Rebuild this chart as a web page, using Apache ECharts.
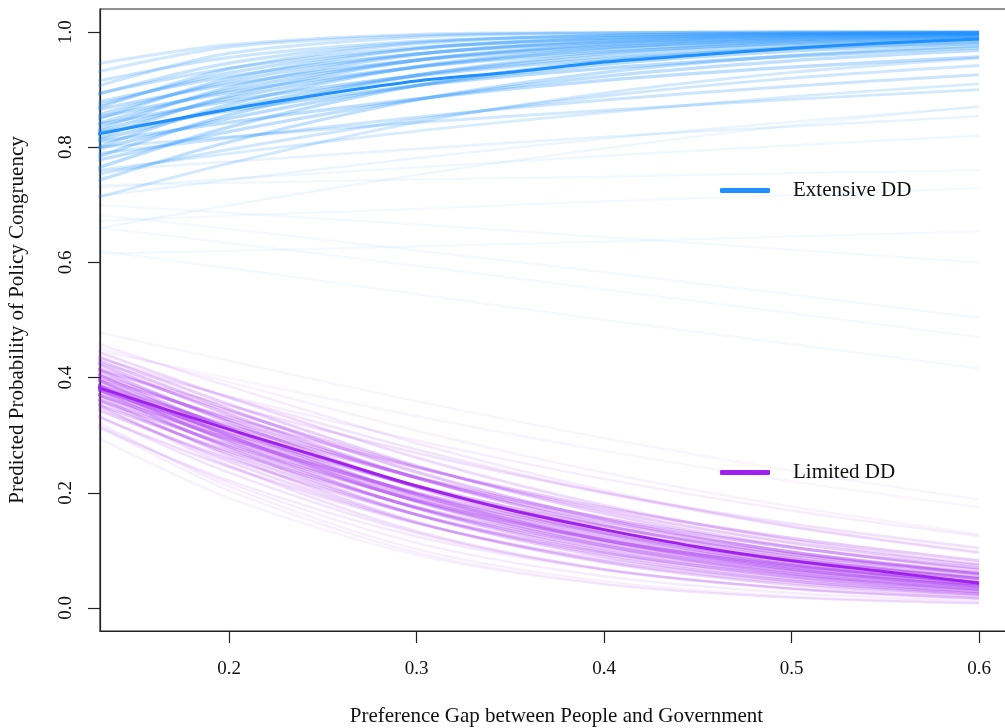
<!DOCTYPE html>
<html>
<head>
<meta charset="utf-8">
<script src="https://cdn.jsdelivr.net/npm/echarts@6/dist/echarts.min.js"></script>
<style>
  html, body { margin: 0; padding: 0; background: #ffffff; }
  #chart { width: 1005px; height: 728px; }
</style>
</head>
<body>
<div id="chart"></div>
<script>
// Preference gap values at which each simulated curve is evaluated
const gapX = [0.13, 0.2, 0.3, 0.4, 0.5, 0.6];
// Grid for the two average curves
const meanX = [0.13, 0.2, 0.25, 0.3, 0.35, 0.4, 0.45, 0.5, 0.55, 0.6];

// Average predicted probability of congruency
const extensiveMean = [0.823, 0.866, 0.892, 0.915, 0.930, 0.948, 0.960, 0.972, 0.981, 0.988];
const limitedMean   = [0.383, 0.310, 0.261, 0.212, 0.170, 0.136, 0.106, 0.082, 0.063, 0.043];

// Simulated curves, extensive direct democracy (values at gapX)
const extensiveDraws = [
  [0.620, 0.590, 0.545, 0.500, 0.458, 0.416],
  [0.660, 0.634, 0.594, 0.553, 0.512, 0.470],
  [0.615, 0.620, 0.628, 0.636, 0.645, 0.654],
  [0.682, 0.658, 0.621, 0.583, 0.544, 0.504],
  [0.700, 0.686, 0.666, 0.644, 0.622, 0.600],
  [0.672, 0.681, 0.693, 0.706, 0.717, 0.729],
  [0.659, 0.699, 0.752, 0.798, 0.838, 0.871],
  [0.734, 0.738, 0.744, 0.749, 0.755, 0.760],
  [0.730, 0.745, 0.765, 0.785, 0.803, 0.820],
  [0.715, 0.743, 0.781, 0.815, 0.844, 0.870],
  [0.759, 0.775, 0.797, 0.818, 0.836, 0.854],
  [0.760, 0.789, 0.828, 0.860, 0.888, 0.910],
  [0.800, 0.818, 0.843, 0.864, 0.883, 0.900],
  [0.713, 0.772, 0.843, 0.894, 0.930, 0.955],
  [0.753, 0.796, 0.848, 0.889, 0.920, 0.942],
  [0.789, 0.816, 0.852, 0.882, 0.906, 0.926],
  [0.742, 0.809, 0.882, 0.930, 0.959, 0.976],
  [0.777, 0.827, 0.883, 0.923, 0.950, 0.968],
  [0.809, 0.843, 0.884, 0.916, 0.939, 0.957],
  [0.764, 0.835, 0.907, 0.950, 0.973, 0.986],
  [0.797, 0.850, 0.907, 0.944, 0.967, 0.980],
  [0.825, 0.863, 0.907, 0.937, 0.958, 0.973],
  [0.783, 0.856, 0.925, 0.963, 0.982, 0.991],
  [0.812, 0.868, 0.925, 0.958, 0.977, 0.988],
  [0.839, 0.880, 0.924, 0.953, 0.971, 0.982],
  [0.800, 0.874, 0.940, 0.972, 0.987, 0.994],
  [0.827, 0.885, 0.939, 0.969, 0.984, 0.992],
  [0.852, 0.895, 0.939, 0.965, 0.980, 0.989],
  [0.815, 0.889, 0.951, 0.979, 0.991, 0.996],
  [0.841, 0.899, 0.951, 0.977, 0.989, 0.995],
  [0.865, 0.909, 0.951, 0.974, 0.986, 0.993],
  [0.831, 0.904, 0.961, 0.985, 0.994, 0.998],
  [0.856, 0.914, 0.962, 0.983, 0.993, 0.997],
  [0.878, 0.923, 0.962, 0.982, 0.991, 0.996],
  [0.848, 0.919, 0.971, 0.990, 0.996, 0.999],
  [0.872, 0.929, 0.971, 0.989, 0.996, 0.998],
  [0.893, 0.937, 0.973, 0.988, 0.995, 0.998],
  [0.868, 0.936, 0.980, 0.994, 0.998, 0.999],
  [0.892, 0.946, 0.982, 0.994, 0.998, 0.999],
  [0.915, 0.956, 0.984, 0.994, 0.998, 0.999],
  [0.906, 0.963, 0.991, 0.998, 1.000, 1.000],
  [0.931, 0.974, 0.994, 0.999, 1.000, 1.000],
  [0.945, 0.978, 0.996, 0.999, 1.000, 1.000]
];

// Simulated curves, limited direct democracy (values at gapX)
const limitedDraws = [
  [0.296, 0.191, 0.092, 0.041, 0.018, 0.008],
  [0.317, 0.204, 0.096, 0.042, 0.018, 0.008],
  [0.323, 0.211, 0.102, 0.046, 0.020, 0.009],
  [0.318, 0.217, 0.113, 0.055, 0.026, 0.012],
  [0.313, 0.221, 0.124, 0.066, 0.034, 0.017],
  [0.334, 0.235, 0.130, 0.067, 0.034, 0.017],
  [0.354, 0.247, 0.133, 0.067, 0.033, 0.016],
  [0.332, 0.245, 0.147, 0.084, 0.047, 0.025],
  [0.350, 0.254, 0.148, 0.081, 0.043, 0.023],
  [0.368, 0.264, 0.149, 0.079, 0.040, 0.020],
  [0.344, 0.259, 0.162, 0.096, 0.056, 0.032],
  [0.361, 0.268, 0.162, 0.093, 0.051, 0.028],
  [0.379, 0.277, 0.162, 0.089, 0.047, 0.024],
  [0.354, 0.272, 0.175, 0.108, 0.064, 0.038],
  [0.371, 0.280, 0.174, 0.103, 0.059, 0.033],
  [0.387, 0.288, 0.173, 0.098, 0.054, 0.028],
  [0.362, 0.283, 0.187, 0.118, 0.073, 0.044],
  [0.379, 0.291, 0.186, 0.113, 0.066, 0.038],
  [0.383, 0.297, 0.192, 0.118, 0.071, 0.041],
  [0.396, 0.299, 0.185, 0.108, 0.060, 0.033],
  [0.371, 0.294, 0.200, 0.130, 0.082, 0.051],
  [0.387, 0.302, 0.198, 0.124, 0.075, 0.044],
  [0.405, 0.311, 0.197, 0.118, 0.068, 0.038],
  [0.379, 0.305, 0.212, 0.142, 0.093, 0.059],
  [0.396, 0.313, 0.211, 0.136, 0.085, 0.051],
  [0.414, 0.323, 0.210, 0.130, 0.077, 0.045],
  [0.388, 0.317, 0.227, 0.156, 0.105, 0.069],
  [0.406, 0.327, 0.226, 0.150, 0.097, 0.061],
  [0.424, 0.336, 0.226, 0.144, 0.089, 0.053],
  [0.430, 0.345, 0.236, 0.154, 0.097, 0.059],
  [0.399, 0.331, 0.244, 0.174, 0.121, 0.082],
  [0.417, 0.342, 0.245, 0.169, 0.113, 0.074],
  [0.437, 0.354, 0.247, 0.164, 0.106, 0.066],
  [0.445, 0.365, 0.261, 0.178, 0.118, 0.076],
  [0.413, 0.351, 0.269, 0.200, 0.146, 0.104],
  [0.435, 0.366, 0.275, 0.200, 0.141, 0.097],
  [0.459, 0.385, 0.286, 0.204, 0.141, 0.095],
  [0.425, 0.368, 0.291, 0.224, 0.169, 0.125],
  [0.452, 0.392, 0.308, 0.235, 0.176, 0.128],
  [0.447, 0.399, 0.333, 0.273, 0.220, 0.175],
  [0.479, 0.429, 0.359, 0.295, 0.238, 0.188]
];

const xTicks = [0.2, 0.3, 0.4, 0.5, 0.6];
const yTicks = [0.0, 0.2, 0.4, 0.6, 0.8, 1.0];

const SERIF = "'Liberation Serif', 'DejaVu Serif', serif";
const BLUE = '#1e90ff';
const PURPLE = '#a020f0';

// Curves close to the average are drawn a little denser than outlying ones
function drawSeries(draws, mean, rgb, spread, tag) {
  return draws.map((vals, i) => {
    let dev = 0;
    gapX.forEach((x, k) => {
      const j = meanX.indexOf(x);
      dev += Math.abs(vals[k] - mean[j]);
    });
    dev /= gapX.length;
    const w = Math.exp(-Math.pow(dev / spread, 2));
    const a = 0.05 + 0.27 * w;
    return {
      type: 'line',
      name: tag + '-' + i,
      data: gapX.map((x, k) => [x, vals[k]]),
      smooth: 0.3,
      showSymbol: false,
      symbol: 'none',
      silent: true,
      z: 2,
      lineStyle: { color: 'rgba(' + rgb + ',' + a.toFixed(3) + ')', width: 2.2 + 1.2 * w }
    };
  });
}

function meanSeries(name, ys, color) {
  return {
    type: 'line',
    name: name,
    data: meanX.map((x, k) => [x, ys[k]]),
    smooth: 0.3,
    showSymbol: false,
    symbol: 'none',
    silent: true,
    z: 5,
    color: color,
    lineStyle: { color: color, width: 3 }
  };
}

const legendBase = {
  orient: 'vertical',
  left: 715,
  icon: 'roundRect',
  itemWidth: 50,
  itemHeight: 5,
  selectedMode: false,
  textStyle: { fontFamily: SERIF, fontSize: 21, color: '#111', padding: [0, 0, 0, 18] }
};

const option = {
  animation: false,
  backgroundColor: '#ffffff',
  grid: {
    left: 100, right: -8, top: 9, bottom: 97,
    outerBoundsMode: 'none',
    containLabel: false,
    show: true, borderColor: '#222', borderWidth: 1.2, backgroundColor: 'transparent'
  },
  legend: [
    Object.assign({}, legendBase, { top: 175, data: ['Extensive DD'] }),
    Object.assign({}, legendBase, { top: 457, data: ['Limited DD'] })
  ],
  xAxis: {
    type: 'value',
    min: 0.1312, max: 0.6181,
    name: 'Preference Gap between People and Government',
    nameLocation: 'middle',
    nameGap: 75,
    nameTextStyle: { fontFamily: SERIF, fontSize: 21, color: '#111' },
    axisLine: { show: true, onZero: false, lineStyle: { color: '#222', width: 1.2 } },
    axisTick: { show: true, length: 12, customValues: xTicks, lineStyle: { color: '#222', width: 1.2 } },
    axisLabel: { customValues: xTicks, margin: 29, fontFamily: SERIF, fontSize: 19, color: '#111',
                 formatter: v => v.toFixed(1) },
    splitLine: { show: false }
  },
  yAxis: {
    type: 'value',
    min: -0.04, max: 1.04,
    name: 'Predicted Probability of Policy Congruency',
    nameLocation: 'middle',
    nameGap: 72,
    nameTextStyle: { fontFamily: SERIF, fontSize: 21, color: '#111' },
    axisLine: { show: true, onZero: false, lineStyle: { color: '#222', width: 1.2 } },
    axisTick: { show: true, length: 12, customValues: yTicks, lineStyle: { color: '#222', width: 1.2 } },
    axisLabel: { customValues: yTicks, rotate: 90, margin: 24, fontFamily: SERIF, fontSize: 19, color: '#111',
                 formatter: v => v.toFixed(1) },
    splitLine: { show: false }
  },
  series: [].concat(
    drawSeries(extensiveDraws, extensiveMean, '30,144,255', 0.09, 'ext'),
    drawSeries(limitedDraws, limitedMean, '160,32,240', 0.05, 'lim'),
    [meanSeries('Extensive DD', extensiveMean, BLUE),
     meanSeries('Limited DD', limitedMean, PURPLE)]
  )
};

const chart = echarts.init(document.getElementById('chart'), null, { renderer: 'canvas' });
chart.setOption(option);
</script>
</body>
</html>
